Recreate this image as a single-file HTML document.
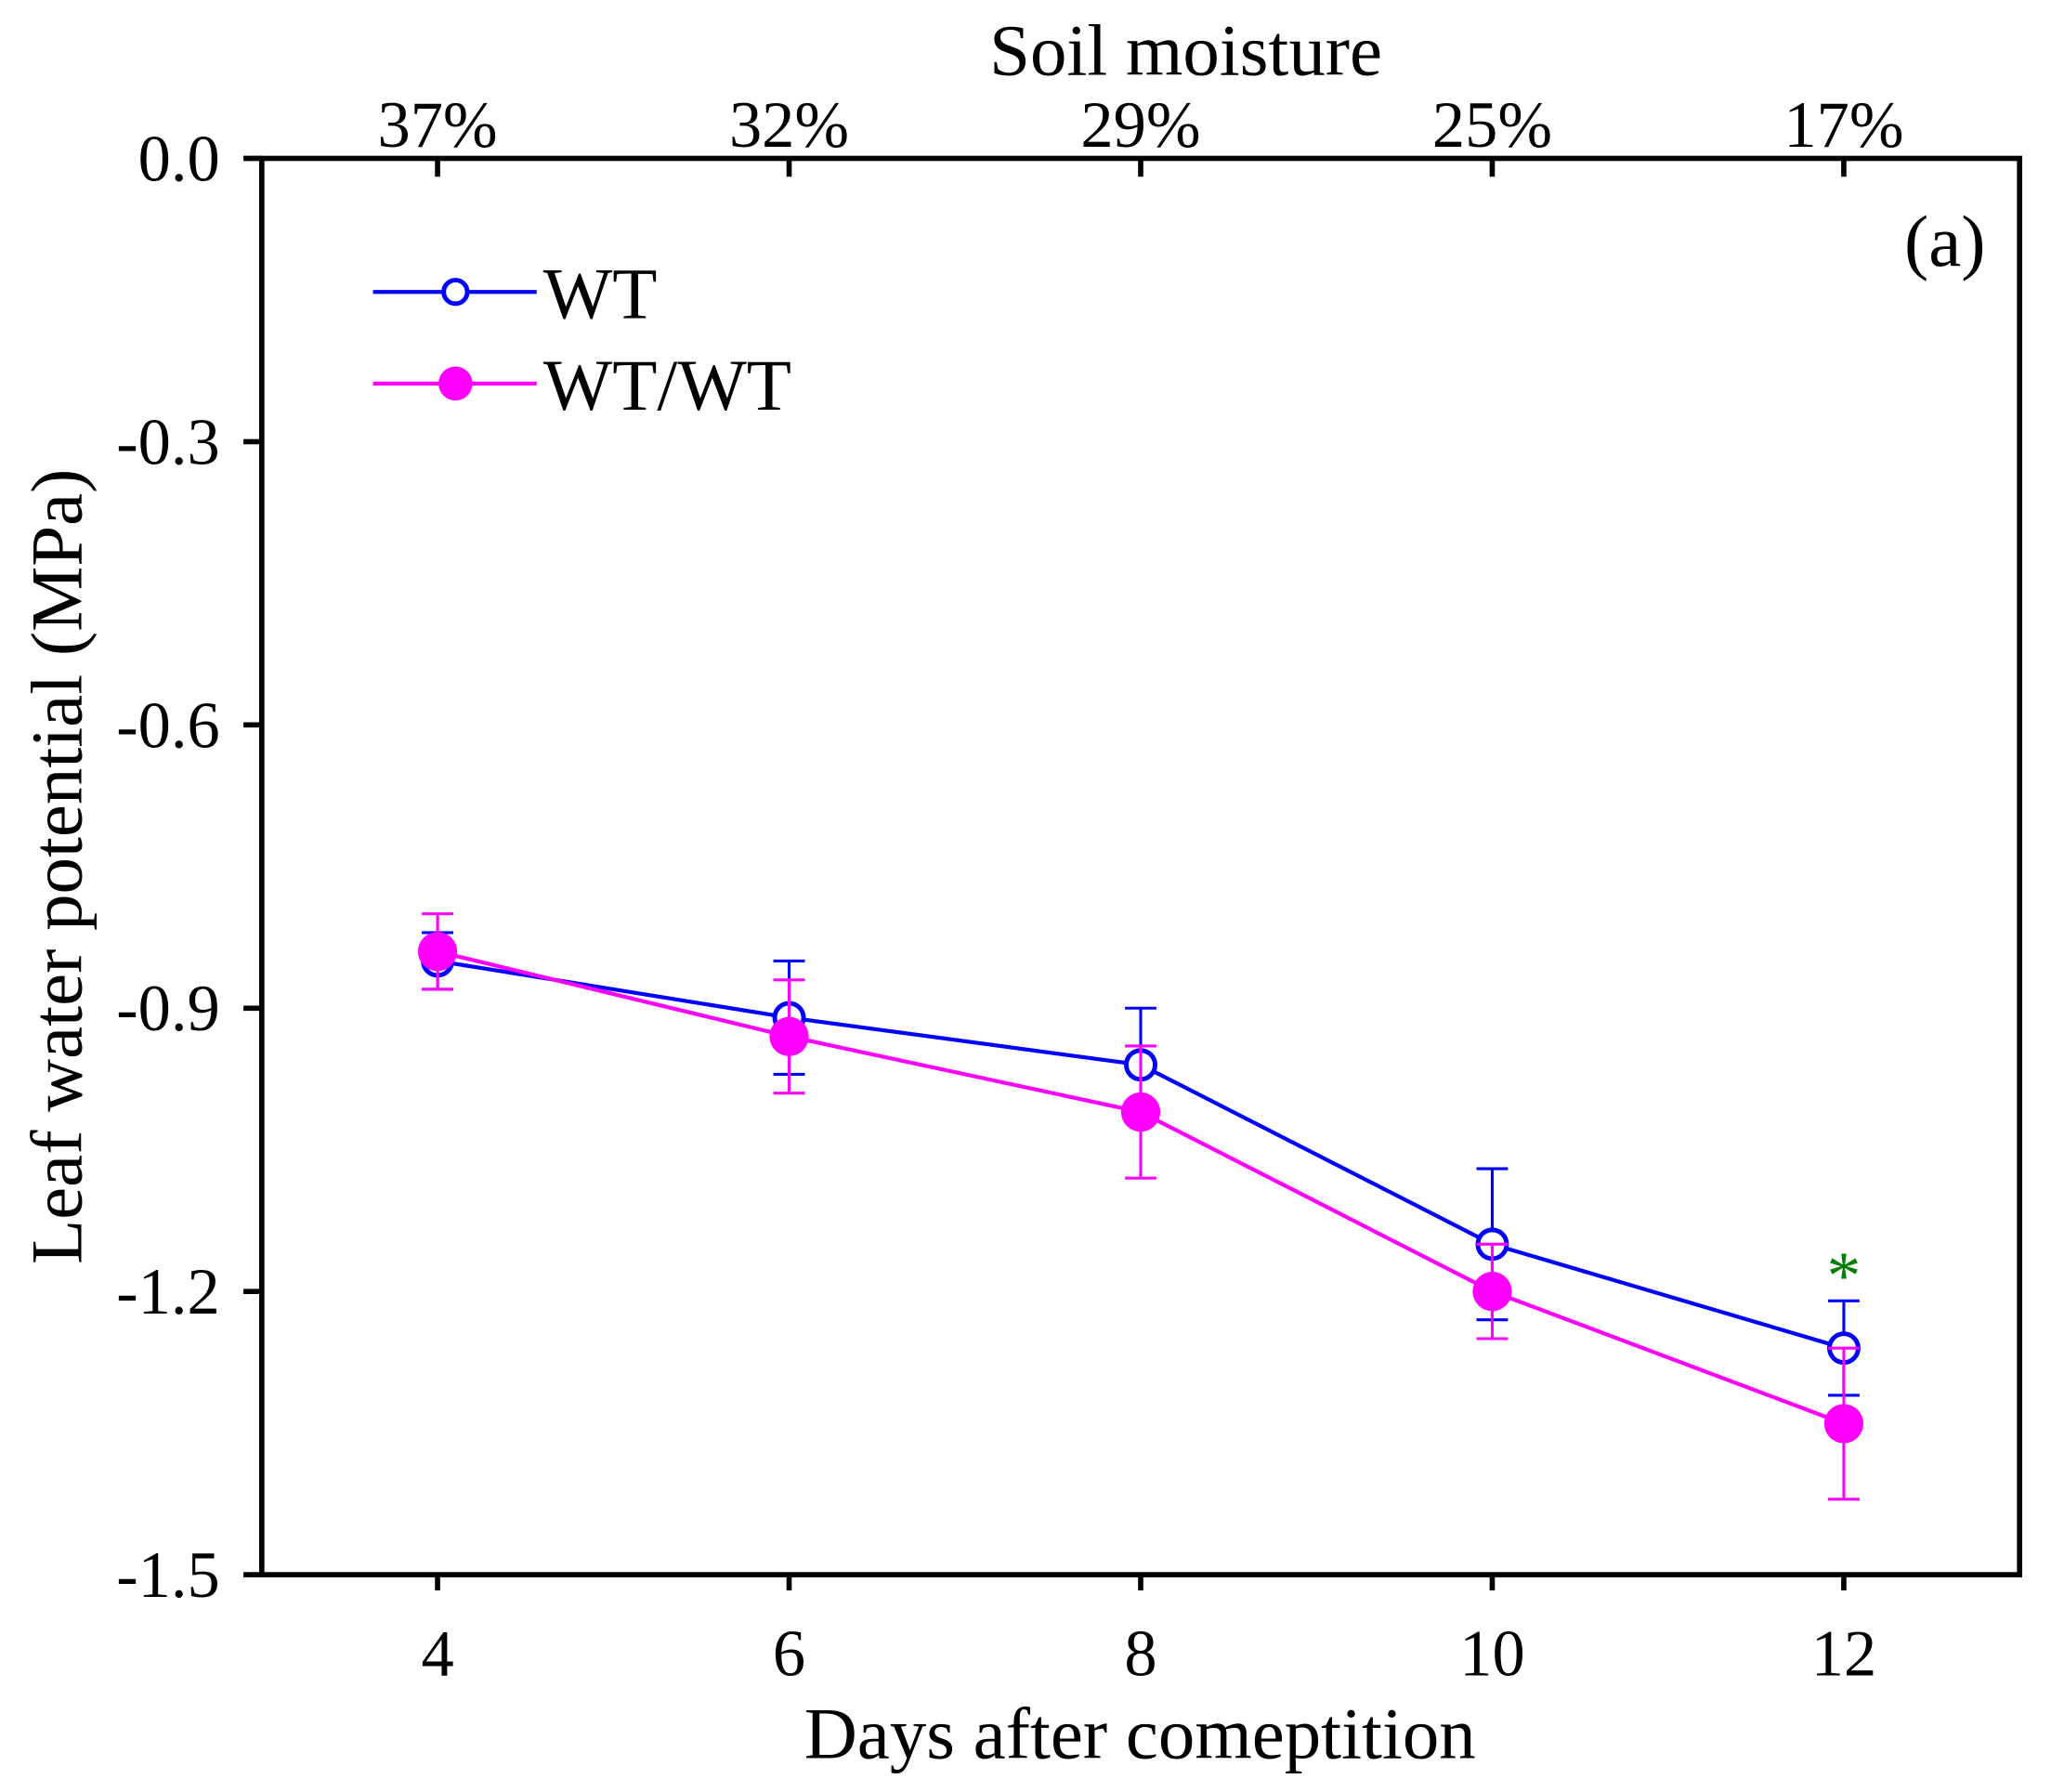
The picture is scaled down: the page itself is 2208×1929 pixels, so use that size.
<!DOCTYPE html>
<html><head><meta charset="utf-8"><style>
html,body{margin:0;padding:0;background:#fff}
svg{display:block}
text{font-family:"Liberation Serif",serif;fill:#000}
</style></head><body>
<svg id="chart" width="2208" height="1929" viewBox="0 0 1567 1369" preserveAspectRatio="none" xmlns="http://www.w3.org/2000/svg">
<g id="axes"></g><g id="marks"></g>
</svg>
<script>
const days = [4, 6, 8, 10, 12];
const moisture = ["37%", "32%", "29%", "25%", "17%"];
const yTicks = [0.0, -0.3, -0.6, -0.9, -1.2, -1.5];
const wtValues = [-0.85, -0.91, -0.96, -1.15, -1.26];
const wtErrors = [0.03, 0.06, 0.06, 0.08, 0.05];
const wtwtValues = [-0.84, -0.93, -1.01, -1.20, -1.34];
const wtwtErrors = [0.04, 0.06, 0.07, 0.05, 0.08];

const L=200,R=1543,T=121,B=1203;
const xS=d=>L+(d-3)/(13-3)*(R-L);
const yS=v=>T+(0-v)/1.5*(B-T);
const NS="http://www.w3.org/2000/svg";
const axes=document.getElementById('axes'), marks=document.getElementById('marks');
function el(tag,attrs,parent,txt){const e=document.createElementNS(NS,tag);for(const k in attrs)e.setAttribute(k,attrs[k]);if(txt!==undefined)e.textContent=txt;parent.appendChild(e);return e;}

let f=el('rect',{x:L,y:T,width:R-L,height:B-T,fill:'none',stroke:'#000','stroke-width':4},axes);



yTicks.forEach(v=>{
  const y=yS(v);
  let t=el('line',{x1:L-14,x2:L,y1:y,y2:y,stroke:'#000','stroke-width':4},axes);
  
  
  let lb=el('text',{x:L-32,y:y+17,'text-anchor':'end','font-size':50},axes,v.toFixed(1));
  
  
});
days.forEach((d,i)=>{
  const x=xS(d);
  let t=el('line',{x1:x,x2:x,y1:B,y2:B+12,stroke:'#000','stroke-width':4},axes);
  
  
  let lb=el('text',{x:x,y:1280,'text-anchor':'middle','font-size':50},axes,String(d));
  
  
  let t2=el('line',{x1:x,x2:x,y1:T,y2:T+14,stroke:'#000','stroke-width':4},axes);
  
  
  let lb2=el('text',{x:x,y:112,'text-anchor':'middle','font-size':50},axes,moisture[i]);
  
  
});
let xt=el('text',{x:871,y:1343,'text-anchor':'middle','font-size':56},axes,'Days after comeptition');


let tt=el('text',{x:906,y:57,'text-anchor':'middle','font-size':56},axes,'Soil moisture');


let yt=el('text',{x:0,y:0,'text-anchor':'middle','font-size':56,transform:'translate(62,662) rotate(-90)'},axes,'Leaf water potential (MPa)');


let pl=el('text',{x:1517,y:203,'text-anchor':'end','font-size':56},axes,'(a)');



function series(vals,errs,color,filled,name){
  const g=el('g',{},marks);
  
  
  const pts=days.map((d,i)=>xS(d)+','+yS(vals[i])).join(' ');
  el('polyline',{points:pts,fill:'none',stroke:color,'stroke-width':3},g);
  days.forEach((d,i)=>{
    const x=xS(d),y1=yS(vals[i]+errs[i]),y2=yS(vals[i]-errs[i]);
    const eb=el('path',{d:`M${x},${y1}V${y2}M${x-12},${y1}H${x+12}M${x-12},${y2}H${x+12}`,stroke:color,'stroke-width':2.2,fill:'none'},g);
    
    
  });
  days.forEach((d,i)=>{
    const c=el('circle',{cx:xS(d),cy:yS(vals[i]),r:filled?15:11,fill:filled?color:'#fff',stroke:color,'stroke-width':filled?0:3.5},g);
    
    
  });
}
series(wtValues,wtErrors,'#0000ff',false,'wt');
series(wtwtValues,wtwtErrors,'#ff00ff',true,'wt-wt');

let star=el('text',{x:xS(12),y:yS(wtValues[4]+wtErrors[4])-2,'text-anchor':'middle','font-size':52,style:'fill:#008000'},marks,'*');



const leg=el('g',{},marks);


el('line',{x1:285,x2:410,y1:223,y2:223,stroke:'#0000ff','stroke-width':3},leg);
el('circle',{cx:348,cy:223,r:9,fill:'#fff',stroke:'#0000ff','stroke-width':3.5},leg);
let l1=el('text',{x:415,y:243,'font-size':56},leg,'WT');


el('line',{x1:285,x2:410,y1:293,y2:293,stroke:'#ff00ff','stroke-width':3},leg);
el('circle',{cx:348,cy:293,r:13,fill:'#ff00ff'},leg);
let l2=el('text',{x:415,y:313,'font-size':56},leg,'WT/WT');


</script>
</body></html>
